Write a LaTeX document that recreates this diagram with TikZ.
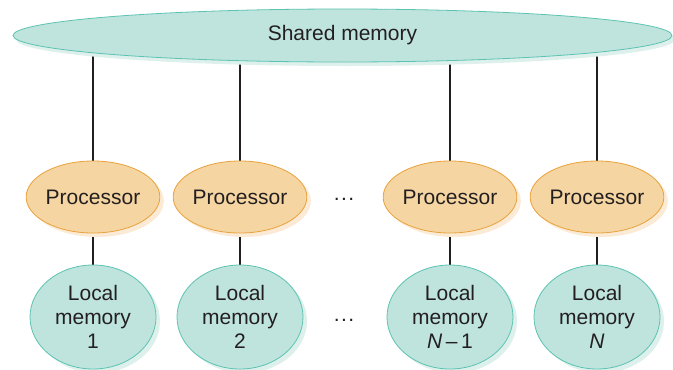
\documentclass[tikz,border=0pt]{standalone}
\usepackage{fontspec}
\setmainfont{Liberation Sans}
\usetikzlibrary{shapes.geometric,shadows,backgrounds}
\definecolor{procfill}{HTML}{F5D5A2}
\definecolor{procdraw}{HTML}{E9A23B}
\definecolor{procshadow}{HTML}{FBEBD6}
\definecolor{memfill}{HTML}{BFE4DD}
\definecolor{memdraw}{HTML}{5CC3B3}
\definecolor{memshadow}{HTML}{DDF0EC}
\definecolor{txt}{HTML}{231F20}
\tikzset{
  base/.style={ellipse, inner sep=0pt, text=txt, font=\fontsize{21}{24}\selectfont, align=center, line width=0.8pt},
  proc/.style={base, fill=procfill, draw=procdraw, minimum width=126pt, minimum height=72pt,
    drop shadow={shadow xshift=4pt, shadow yshift=-4pt, fill=procshadow, opacity=1}},
  mem/.style={base, fill=memfill, draw=memdraw, minimum width=126pt, minimum height=104pt,
    drop shadow={shadow xshift=4pt, shadow yshift=-4pt, fill=memshadow, opacity=1}},
  shmem/.style={base, fill=memfill, draw=memdraw, minimum width=659pt, minimum height=53pt,
    drop shadow={shadow xshift=3pt, shadow yshift=-4pt, fill=memshadow, opacity=1}},
  link/.style={line width=1.2pt, draw=txt},
  dots/.style={text=txt, font=\fontsize{21}{24}\selectfont, anchor=base, inner sep=0pt}
}
\begin{document}
\begin{tikzpicture}[x=1pt,y=-1pt]
\useasboundingbox (0,0) rectangle (673,370);
\node[shmem] (sm) at (342.5,35.5) {Shared memory};
\node[proc] (p1) at (93,197) {Processor};
\node[proc] (p2) at (240,197) {Processor};
\node[proc] (p3) at (450,197) {Processor};
\node[proc] (p4) at (597,197) {Processor};
\node[mem] (m1) at (93,317) {Local\\memory\\1};
\node[mem] (m2) at (240,317) {Local\\memory\\2};
\node[mem] (m3) at (450,317) {Local\\memory\\\textit{N}\,–\,1};
\node[mem] (m4) at (597,317) {Local\\memory\\\textit{N}};
\node[dots] (d1) at (344,200) {.\kern1.5pt.\kern1.5pt.};
\node[dots] (d2) at (344,321) {.\kern1.5pt.\kern1.5pt.};
\begin{scope}[on background layer]
\foreach \i in {1,2,3,4}{
  \draw[link] (p\i.center) -- (p\i.center |- sm.center);
  \draw[link] (p\i.center) -- (m\i.center);
}
\end{scope}
\end{tikzpicture}
\end{document}
